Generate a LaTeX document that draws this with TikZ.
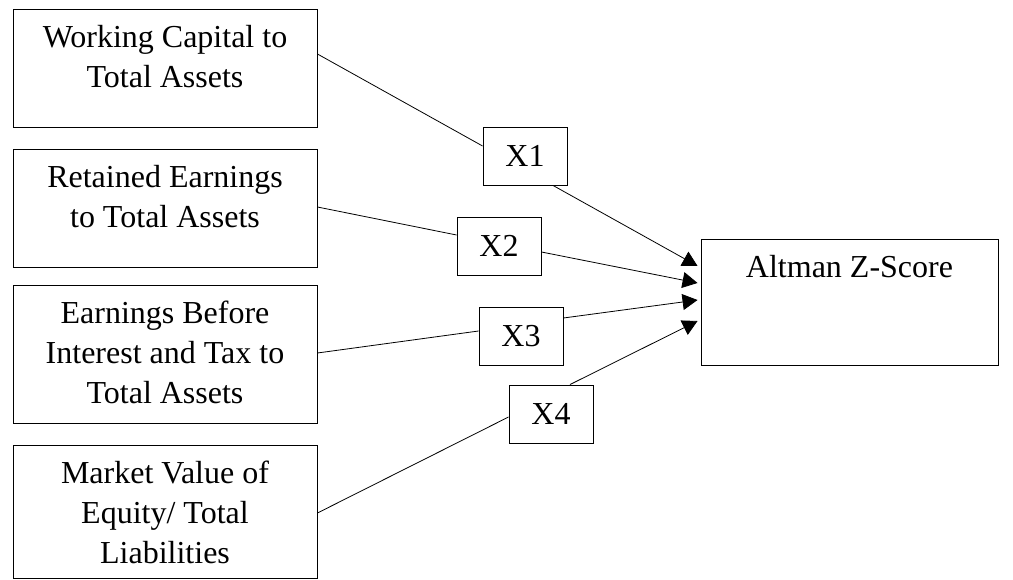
\documentclass[tikz,border=0pt]{standalone}
\usepackage{fontspec}
\setmainfont{Liberation Serif}
\usetikzlibrary{arrows.meta}
\begin{document}
\begin{tikzpicture}[x=1pt,y=1pt,
  frame/.style={draw=black, line width=0.9pt, inner sep=0pt},
  factor/.style={frame, minimum width=304pt},
  label/.style={font=\fontsize{32}{40}\selectfont, align=center, inner sep=0pt, anchor=north},
  xbox/.style={frame, minimum width=84pt, minimum height=58pt, font=\fontsize{32}{40}\selectfont},
  link/.style={line width=0.8pt},
  arr/.style={line width=0.8pt, -{Triangle[length=15pt,width=16pt]}}]
\useasboundingbox (0,0) rectangle (1013,579);

% input ratios
\node[factor, minimum height=118pt] (b1) at (165,511) {};
\node[factor, minimum height=118pt] (b2) at (165,371) {};
\node[factor, minimum height=138pt] (b3) at (165,225) {};
\node[factor, minimum height=133pt] (b4) at (165,67.5) {};

\node[label] (t1) at ([yshift=-16.5pt]b1.north) {Working Capital to\\Total Assets};
\node[label] (t2) at ([yshift=-16.5pt]b2.north) {Retained Earnings\\to Total Assets};
\node[label] (t3) at ([yshift=-16.5pt]b3.north) {Earnings Before\\Interest and Tax to\\Total Assets};
\node[label] (t4) at ([yshift=-16.5pt]b4.north) {Market Value of\\Equity/ Total\\Liabilities};

% outcome
\node[frame, minimum width=297pt, minimum height=126pt] (z) at (849.5,277) {};
\node[label] (tz) at ([yshift=-16.5pt]z.north) {Altman Z-Score};

% variable labels
\node[xbox] (x1) at (525,423) {X1};
\node[xbox] (x2) at (499,333) {X2};
\node[xbox] (x3) at (521,243) {X3};
\node[xbox] (x4) at (551,165) {X4};

% ratio -> variable
\draw[link] ([yshift=14pt]b1.east) -- ([yshift=10pt]x1.west);
\draw[link] ([yshift=1pt]b2.east) -- ([yshift=11pt]x2.west);
\draw[link] ([yshift=1pt]b3.east) -- ([yshift=5pt]x3.west);
\draw[link] ([yshift=-1.5pt]b4.east) -- ([yshift=-3pt]x4.west);

% variable -> score
\draw[arr] ([xshift=28pt]x1.south) -- ([xshift=-3pt,yshift=36pt]z.west);
\draw[arr] ([yshift=-6pt]x2.east) -- ([xshift=-3pt,yshift=19pt]z.west);
\draw[arr] ([yshift=18pt]x3.east) -- ([xshift=-3pt,yshift=2pt]z.west);
\draw[arr] ([xshift=19pt]x4.north) -- ([xshift=-3pt,yshift=-19pt]z.west);
\end{tikzpicture}
\end{document}
